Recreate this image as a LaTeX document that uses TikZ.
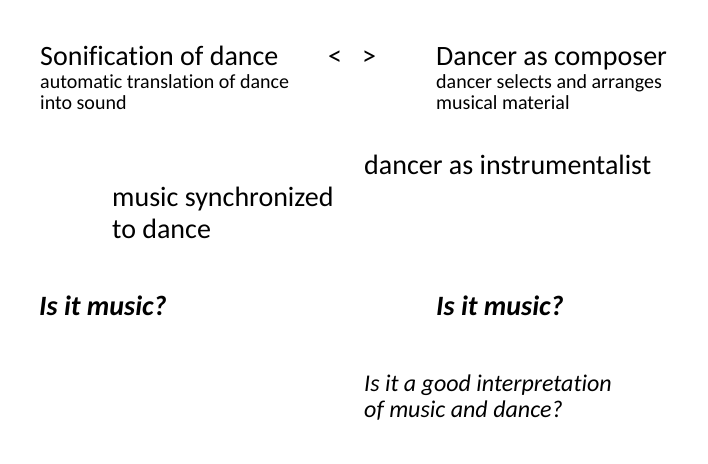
\documentclass[tikz,border=0pt]{standalone}
\usepackage{fontspec}
\setmainfont[Ligatures=NoCommon]{Carlito}
\begin{document}
\begin{tikzpicture}[x=1pt,y=1pt,
  txt/.style={anchor=base west,inner sep=0pt,align=left},
  big/.style={txt,font=\fontsize{28}{34}\selectfont},
  small/.style={txt,font=\fontsize{20}{21}\selectfont},
  mid/.style={txt,font=\fontsize{28}{32}\selectfont},
  q/.style={txt,font=\fontsize{28}{34}\selectfont\bfseries\itshape},
  qs/.style={txt,font=\fontsize{24}{26}\selectfont\itshape}]
\useasboundingbox (0,0) rectangle (708,463);
\node[big] (son) at (40,397) {Sonification of dance};
\node[small] (sonsub) at (40,353) {automatic translation of dance\\into sound};
\node[big] (arr) at (328,397) {<\hspace{20pt}>};
\node[big] (comp) at (436,397) {Dancer as composer};
\node[small] (compsub) at (436,353) {dancer selects and arranges\\musical material};
\node[mid] (inst) at (364,288) {dancer as instrumentalist};
\node[mid] (sync) at (112,224) {music synchronized\\to dance};
\node[q] (q1) at (39,148) {Is it music?};
\node[q] (q2) at (436,148) {Is it music?};
\node[qs] (q3) at (364,46) {Is it a good interpretation\\of music and dance?};
\end{tikzpicture}
\end{document}
